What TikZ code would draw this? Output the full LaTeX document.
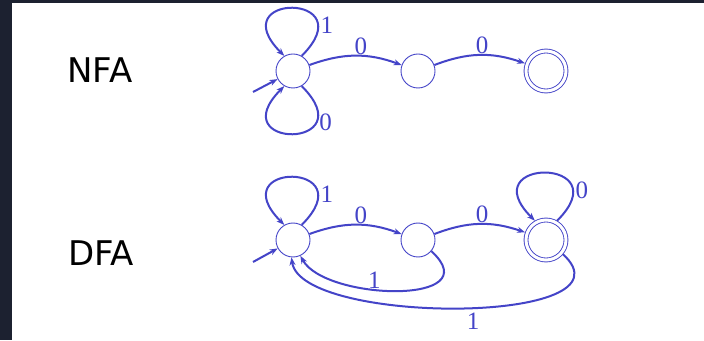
\documentclass[tikz,border=0pt]{standalone}
\usepackage{fontspec}
\setmainfont{Liberation Serif}
\newfontfamily\titlefont{DejaVu Sans}
\usetikzlibrary{arrows.meta}
\definecolor{autblue}{HTML}{4444C8}
\definecolor{framebg}{HTML}{1C2130}

\begin{document}
\begin{tikzpicture}[x=1pt, y=1pt,
    stnode/.style={circle, draw=autblue, line width=0.9pt, minimum size=34pt, inner sep=0pt},
    acc/.style={stnode, double=white, double distance=3pt, minimum size=40pt, outer sep=2.3pt},
    trans/.style={draw=autblue, line width=2pt, -{Stealth[length=8pt,width=6pt]}},
    lab/.style={text=autblue, font=\fontsize{25}{25}\selectfont, inner sep=1.5pt},
    kind/.style={font=\titlefont\fontsize{34}{34}\selectfont}]

  % frame
  \useasboundingbox (0,0) rectangle (704,340);
  \fill[framebg] (0,0) rectangle (704,340);
  \fill[white] (12,0) rectangle (704,337);

  % NFA
  \node[kind] (nfatitle) at (100,269.5) {NFA};
  \node[stnode] (n0) at (293,269) {};
  \node[stnode] (n1) at (418,269) {};
  \node[acc] (n2) at (546,269) {};
  \coordinate (nfastart) at (253,248);
  \draw[trans] (nfastart) -- (n0);
  \draw[trans] (n0.60) .. controls +(45:90) and +(135:90) .. (n0.120) node[lab, pos=0.2, right] {1};
  \draw[trans] (n0.300) .. controls +(-45:90) and +(-135:90) .. (n0.240) node[lab, pos=0.25, right] {0};
  \draw[trans] (n0) to[bend left=20] node[lab, pos=0.56, above, inner sep=0.5pt] {0} (n1);
  \draw[trans] (n1) to[bend left=20] node[lab, pos=0.53, above, inner sep=0.5pt] {0} (n2);

  % DFA
  \node[kind] (dfatitle) at (101,87) {DFA};
  \node[stnode] (d0) at (293,100) {};
  \node[stnode] (d1) at (418,100) {};
  \node[acc] (d2) at (546,100) {};
  \coordinate (dfastart) at (253,78);
  \draw[trans] (dfastart) -- (d0);
  \draw[trans] (d0.60) .. controls +(45:90) and +(135:90) .. (d0.120) node[lab, pos=0.2, right] {1};
  \draw[trans] (d2.60) .. controls +(45:90) and +(135:90) .. (d2.120) node[lab, pos=0.2, right] {0};
  \draw[trans] (d0) to[bend left=20] node[lab, pos=0.56, above, inner sep=0.5pt] {0} (d1);
  \draw[trans] (d1) to[bend left=20] node[lab, pos=0.53, above, inner sep=0.5pt] {0} (d2);
  \draw[trans] (d1.-40) .. controls +(59,-54) and +(25,-45) .. (d0.-65) node[lab, pos=0.6, above, inner sep=0pt] {1};
  \draw[trans] (d2.-40) .. controls +(77,-71) and +(9,-68) .. (d0.-95) node[lab, pos=0.47, below=3pt] {1};
\end{tikzpicture}
\end{document}
